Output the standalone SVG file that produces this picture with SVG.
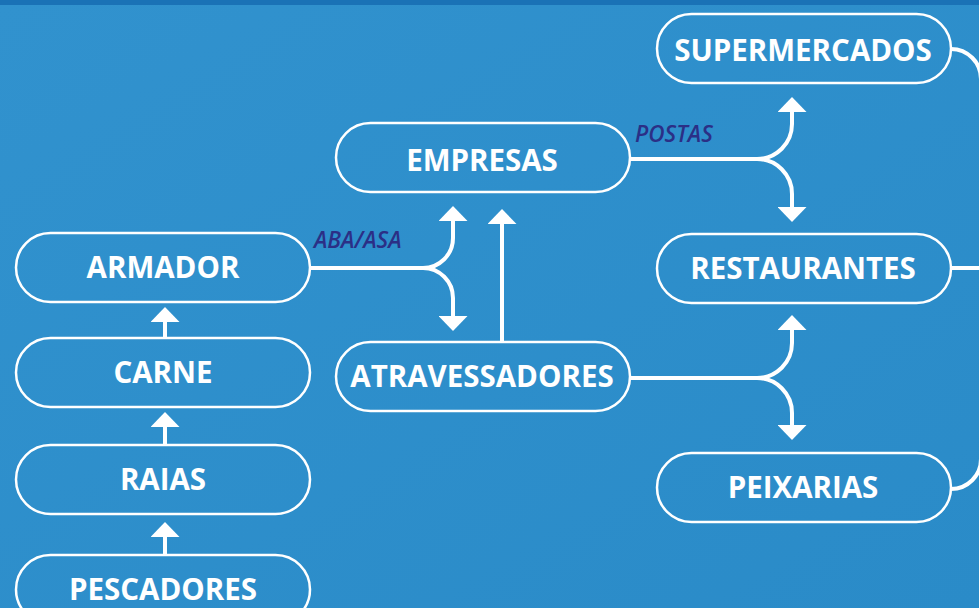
<svg xmlns="http://www.w3.org/2000/svg" width="979" height="608" viewBox="0 0 979 608">
<defs>
<linearGradient id="bg" x1="0" y1="0" x2="1" y2="1">
<stop offset="0" stop-color="#3192ce"/>
<stop offset="1" stop-color="#2a8bc8"/>
</linearGradient>
<marker id="ah" markerUnits="userSpaceOnUse" viewBox="0 -14.5 15 29" refX="0" refY="0" markerWidth="15" markerHeight="29" orient="auto">
<path d="M0,-14.5 L15,0 L0,14.5 Z" fill="#ffffff"/>
</marker>
<style>
.box{fill:none;stroke:#ffffff;stroke-width:2.5}
.lbl{font-family:"Open Sans","Liberation Sans",sans-serif;font-weight:700;font-size:29.5px;fill:#ffffff;text-anchor:middle}
.edge{fill:none;stroke:#ffffff;stroke-width:4}
.arr{marker-end:url(#ah)}
.el{font-family:"Open Sans","Liberation Sans",sans-serif;font-style:italic;font-weight:600;font-size:22.5px;fill:#2b2f86}
</style>
</defs>
<rect x="0" y="0" width="979" height="608" fill="url(#bg)"/>
<rect x="0" y="0" width="979" height="5" fill="#1a72b6"/>
<g id="connectors">
<path class="edge arr" d="M165,338 V322"/>
<path class="edge arr" d="M165,445 V427"/>
<path class="edge arr" d="M165,555 V537"/>
<path class="edge arr" d="M502,342 V224"/>
<path class="edge" d="M310,268 H423"/>
<path class="edge arr" d="M423,268 A30,30 0 0 0 453,238 V221"/>
<path class="edge arr" d="M423,268 A30,30 0 0 1 453,298 V316"/>
<path class="edge" d="M630,159 H757"/>
<path class="edge arr" d="M757,159 A35,35 0 0 0 792,124 V112"/>
<path class="edge arr" d="M757,159 A35,35 0 0 1 792,194 V207"/>
<path class="edge" d="M630,378 H757"/>
<path class="edge arr" d="M757,378 A35,35 0 0 0 792,343 V330"/>
<path class="edge arr" d="M757,378 A35,35 0 0 1 792,413 V425"/>
<path class="edge" d="M951,49 A30,30 0 0 1 981,79"/>
<path class="edge" d="M951,268 H979"/>
<path class="edge" d="M951,489 A30,30 0 0 0 981,459"/>
<text class="el" x="314" y="248">ABA/ASA</text>
<text class="el" x="635" y="142">POSTAS</text>
</g>
<g id="n-armador"><rect class="box" x="16" y="233" width="294" height="69" rx="34.5"/><text class="lbl" x="163" y="277.5">ARMADOR</text></g>
<g id="n-carne"><rect class="box" x="16" y="338" width="294" height="69" rx="34.5"/><text class="lbl" x="163" y="382.5">CARNE</text></g>
<g id="n-raias"><rect class="box" x="16" y="445" width="294" height="69" rx="34.5"/><text class="lbl" x="163" y="489.5">RAIAS</text></g>
<g id="n-pescadores"><rect class="box" x="16" y="555" width="294" height="69" rx="34.5"/><text class="lbl" x="163" y="600">PESCADORES</text></g>
<g id="n-empresas"><rect class="box" x="336" y="123" width="294" height="69" rx="34.5"/><text class="lbl" x="482" y="170.5">EMPRESAS</text></g>
<g id="n-atravessadores"><rect class="box" x="336" y="342" width="294" height="69" rx="34.5"/><text class="lbl" x="482" y="387">ATRAVESSADORES</text></g>
<g id="n-supermercados"><rect class="box" x="657" y="14" width="294" height="69" rx="34.5"/><text class="lbl" x="803" y="61">SUPERMERCADOS</text></g>
<g id="n-restaurantes"><rect class="box" x="657" y="234" width="294" height="69" rx="34.5"/><text class="lbl" x="803" y="278.5">RESTAURANTES</text></g>
<g id="n-peixarias"><rect class="box" x="657" y="453" width="294" height="69" rx="34.5"/><text class="lbl" x="803" y="497.5">PEIXARIAS</text></g>
</svg>
